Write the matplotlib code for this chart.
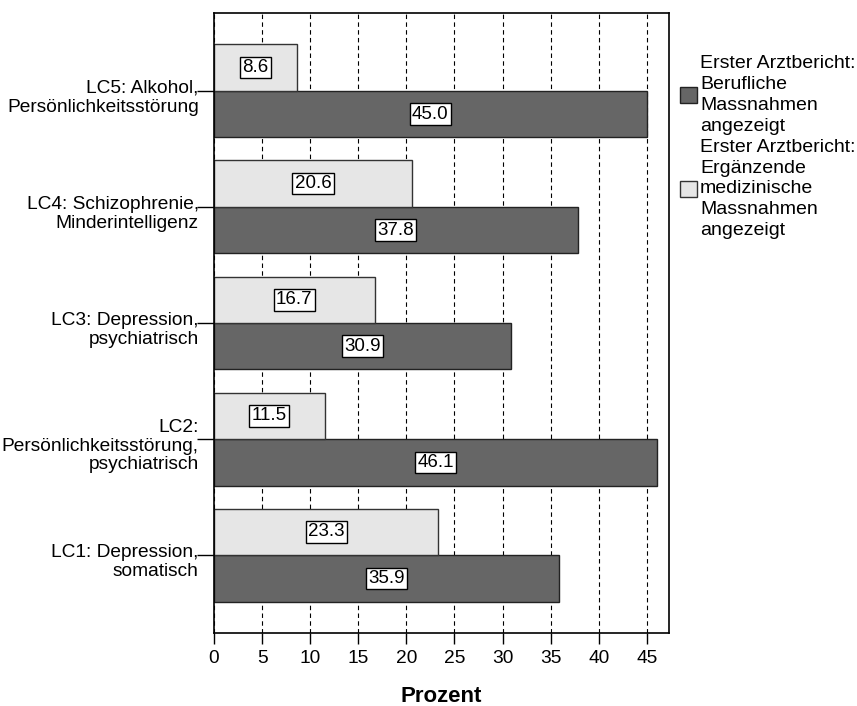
import numpy as np
import matplotlib
matplotlib.use("Agg")
import matplotlib.pyplot as plt
import matplotlib.transforms as mtransforms
from matplotlib.patches import Patch

plt.rcParams['font.family'] = ['Liberation Sans', 'DejaVu Sans']

# Categories from bottom to top
categories = ["LC1: Depression,\nsomatisch",
              "LC2:\nPersönlichkeitsstörung,\npsychiatrisch",
              "LC3: Depression,\npsychiatrisch",
              "LC4: Schizophrenie,\nMinderintelligenz",
              "LC5: Alkohol,\nPersönlichkeitsstörung"]
berufliche = [35.9, 46.1, 30.9, 37.8, 45.0]
ergaenzende = [23.3, 11.5, 16.7, 20.6, 8.6]
series_names = ["Erster Arztbericht:\nBerufliche\nMassnahmen\nangezeigt",
                "Erster Arztbericht:\nErgänzende\nmedizinische\nMassnahmen\nangezeigt"]
xticks = [0, 5, 10, 15, 20, 25, 30, 35, 40, 45]

dark = '#666666'
light = '#e6e6e6'

fig = plt.figure(figsize=(8.57, 7.06), dpi=100)
ax = fig.add_axes([0.2497, 0.1034, 0.5309, 0.8782])

y = np.arange(len(categories))
h = 0.40
ax.barh(y - h / 2, berufliche, height=h, color=dark, edgecolor='#222222', linewidth=1, zorder=2)
ax.barh(y + h / 2, ergaenzende, height=h, color=light, edgecolor='#333333', linewidth=1, zorder=2)

# value labels in white boxes
box = dict(boxstyle='square,pad=0.12', facecolor='white', edgecolor='black', linewidth=1)
for yi, v in zip(y, berufliche):
    ax.text(v / 2, yi - h / 2, f"{v:.1f}", ha='center', va='center', fontsize=13.5, bbox=box, zorder=3)
for yi, v in zip(y, ergaenzende):
    ax.text(v / 2, yi + h / 2, f"{v:.1f}", ha='center', va='center', fontsize=13.5, bbox=box, zorder=3)

ax.set_xlim(0, 47.3)
ax.set_ylim(-0.67, 4.67)
ax.set_xticks(xticks)
ax.set_yticks(y)
ax.set_yticklabels(categories, fontsize=13.8, linespacing=1.12)
ax.tick_params(axis='y', length=12, width=1, pad=-1)
ax.tick_params(axis='x', length=8, width=1, labelsize=13.8, pad=4)
# shift category labels slightly down like the original
shift = mtransforms.ScaledTranslation(0, -3 / 72, fig.dpi_scale_trans)
for lbl in ax.get_yticklabels():
    lbl.set_transform(lbl.get_transform() + shift)
ax.xaxis.grid(True, linestyle=(0, (4, 3)), color='black', linewidth=0.8, zorder=0)
ax.set_axisbelow(True)
for s in ax.spines.values():
    s.set_linewidth(1.2)

ax.set_xlabel("Prozent", fontsize=16, fontweight='bold', labelpad=14)

handles = [Patch(facecolor=dark, edgecolor='#222222', label=series_names[0]),
           Patch(facecolor=light, edgecolor='#333333', label=series_names[1])]
leg = fig.legend(handles=handles, loc='upper left', bbox_to_anchor=(0.793, 0.922),
                 frameon=False, handlelength=0.9, handleheight=0.9,
                 handletextpad=0.15, labelspacing=0.2, borderaxespad=0,
                 borderpad=0, prop={'size': 14})
for t in leg.get_texts():
    t.set_linespacing(1.3)

plt.savefig("out.png", dpi=100)
